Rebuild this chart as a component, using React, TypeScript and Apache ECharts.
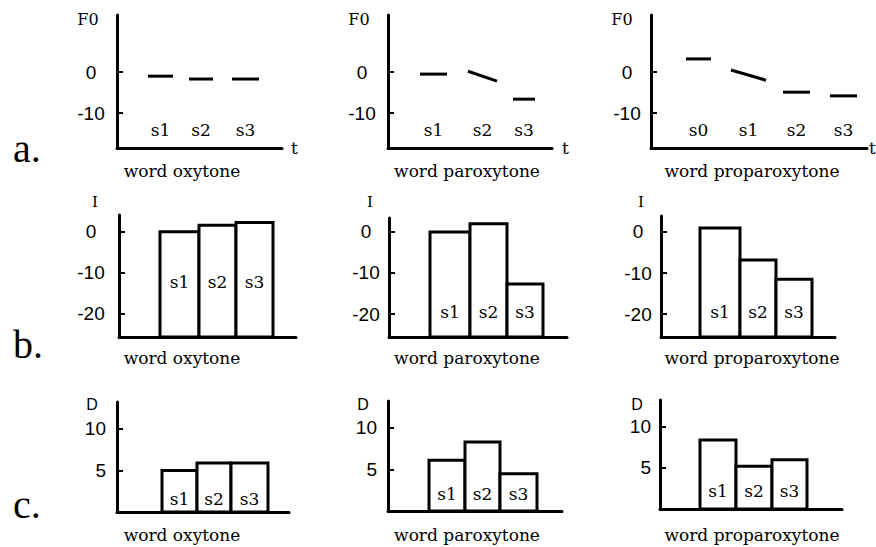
import React, { useEffect, useRef } from "react";
import * as echarts from "echarts";

// ---------- DATA ----------
// Row a: F0 contours (onset, offset in time units; F0 at start and end of each syllable)
const f0Syllables = [["s1", "s2", "s3"], ["s1", "s2", "s3"], ["s0", "s1", "s2", "s3"]];
const f0Onsets = [[3.1, 7.2, 11.5], [3.2, 8.0, 12.5], [3.5, 8.0, 13.2, 17.9]];
const f0Offsets = [[5.6, 9.6, 14.2], [5.9, 10.9, 14.7], [6.0, 11.5, 15.9, 20.6]];
const f0Start = [[-1, -1.7, -1.7], [-0.5, 0.2, -6.6], [3.2, 0.5, -4.9, -5.8]];
const f0End = [[-1, -1.7, -1.7], [-0.5, -2.2, -6.6], [3.2, -2.0, -4.9, -5.8]];

// Row b: intensity bars
const barSyllables = ["s1", "s2", "s3"];
const intOnsets = [[4.1, 8.0, 11.7], [4.1, 8.1, 11.8], [3.9, 7.9, 11.5]];
const intOffsets = [[8.0, 11.7, 15.4], [8.1, 11.8, 15.4], [7.9, 11.5, 15.1]];
const intValues = [[0, 1.6, 2.3], [0, 2.0, -12.7], [1.0, -6.8, -11.5]];

// Row c: duration bars
const durOnsets = [[4.5, 8.0, 11.4], [4.1, 7.7, 11.2], [4.0, 7.6, 11.2]];
const durOffsets = [[8.0, 11.4, 15.1], [7.7, 11.2, 14.9], [7.6, 11.2, 14.7]];
const durValues = [[5.0, 5.9, 5.9], [6.1, 8.3, 4.5], [8.4, 5.2, 6.0]];

const wordTypes = ["word oxytone", "word paroxytone", "word proparoxytone"];
const rowLetters = ["a.", "b.", "c."];
const axisNames = ["F0", "I", "D"];
const f0Ticks = [0, -10];
const intTicks = [0, -10, -20];
const durTicks = [10, 5];

// ---------- LAYOUT ----------
const gridRects = [
  [[117, 15, 165, 133], [388, 15, 164, 133], [651, 15, 216, 133]],
  [[119, 215, 177, 122], [389, 218, 178, 119], [661, 216, 174, 121]],
  [[117, 402, 172, 110], [388, 401, 174, 110], [660, 400, 182, 109]],
];
const yRanges = [
  [[-18.5, 13.9], [-18.5, 13.9], [-18.5, 13.9]],
  [[-25.6, 4.1], [-25.6, 3.4], [-25.6, 3.9]],
  [[0, 13.25], [0, 13.25], [0, 13.25]],
];
const labelMargins = [[26, 26, 24], [28, 23, 23], [11, 11, 9]];
const tNameGaps = [9, 10, 2];
const sLabelY = [[-14.1, -14.1, -14.1], [-12.2, -19.5, -19.5], [1.6, 2.0, 2.2]];
const subtitleY = [171, 358, 535];
const letterY = [148, 344, 504];
const axisNamePos = [
  [[88, 19], [359, 19], [622, 19]],
  [[95, 202], [370, 202], [641, 202]],
  [[92, 404], [363, 404], [637, 404]],
];
const subtitleX = [182, 467, 752];

const SERIF = "'DejaVu Serif', serif";
const SANS = "'Liberation Sans', Arial, sans-serif";

function buildOption() {
  const grid: any[] = [];
  const xAxis: any[] = [];
  const yAxis: any[] = [];
  const series: any[] = [];
  const graphic: any[] = [];
  for (let r = 0; r < 3; r++) {
    for (let c = 0; c < 3; c++) {
      const idx = r * 3 + c;
      const [gl, gt, gw, gh] = gridRects[r][c];
      grid.push({ left: gl, top: gt, width: gw, height: gh, containLabel: false, outerBoundsMode: "none" });
      xAxis.push({
        type: "value",
        gridIndex: idx,
        min: 0,
        max: gw / 10,
        axisLine: { show: true, onZero: false, lineStyle: { color: "#000", width: 3 } },
        axisTick: { show: false },
        axisLabel: { show: false },
        splitLine: { show: false },
        name: r === 0 ? "t" : "",
        nameLocation: "end",
        nameGap: tNameGaps[c],
        nameTextStyle: { fontFamily: SERIF, fontSize: 17, color: "#000", align: "left", verticalAlign: "middle" },
      });
      const ticks = r === 0 ? f0Ticks : r === 1 ? intTicks : durTicks;
      yAxis.push({
        type: "value",
        gridIndex: idx,
        min: yRanges[r][c][0],
        max: yRanges[r][c][1],
        axisLine: { show: true, onZero: false, lineStyle: { color: "#000", width: 3 } },
        axisTick: { show: true, inside: true, length: 6, customValues: ticks, lineStyle: { color: "#000", width: 2 } },
        axisLabel: {
          show: true,
          customValues: ticks,
          margin: labelMargins[r][c],
          align: r === 2 ? "right" : "center",
          fontFamily: SANS,
          fontSize: 19,
          color: "#000",
        },
        splitLine: { show: false },
      });
      const labelY = sLabelY[r][c];
      const yMin = yRanges[r][c][0];
      if (r === 0) {
        const names = f0Syllables[c];
        const data = f0Onsets[c].map((o, i) => [o, f0Offsets[c][i], f0Start[c][i], f0End[c][i]]);
        series.push({
          type: "custom",
          xAxisIndex: idx,
          yAxisIndex: idx,
          encode: { x: [0, 1], y: [2, 3] },
          data,
          renderItem: (params: any, api: any) => {
            const i = params.dataIndex;
            const x0 = api.value(0), x1 = api.value(1);
            const p0 = api.coord([x0, api.value(2)]);
            const p1 = api.coord([x1, api.value(3)]);
            const lp = api.coord([(x0 + x1) / 2, labelY]);
            return {
              type: "group",
              children: [
                { type: "line", shape: { x1: p0[0], y1: p0[1], x2: p1[0], y2: p1[1] }, style: { stroke: "#000", lineWidth: 3 } },
                {
                  type: "text",
                  x: lp[0],
                  y: lp[1],
                  style: { text: names[i], align: "center", verticalAlign: "middle", fontSize: 17, fontFamily: SERIF, fill: "#000" },
                },
              ],
            };
          },
        });
      } else {
        const on = r === 1 ? intOnsets[c] : durOnsets[c];
        const off = r === 1 ? intOffsets[c] : durOffsets[c];
        const vals = r === 1 ? intValues[c] : durValues[c];
        const data = on.map((o, i) => [o, off[i], vals[i]]);
        series.push({
          type: "custom",
          xAxisIndex: idx,
          yAxisIndex: idx,
          encode: { x: [0, 1], y: 2 },
          data,
          renderItem: (params: any, api: any) => {
            const i = params.dataIndex;
            const x0 = api.value(0), x1 = api.value(1);
            const p0 = api.coord([x0, api.value(2)]);
            const p1 = api.coord([x1, yMin]);
            const lp = api.coord([(x0 + x1) / 2, labelY]);
            return {
              type: "group",
              children: [
                {
                  type: "rect",
                  shape: { x: p0[0], y: p0[1], width: p1[0] - p0[0], height: p1[1] - p0[1] },
                  style: { fill: "#fff", stroke: "#000", lineWidth: 3 },
                },
                {
                  type: "text",
                  x: lp[0],
                  y: lp[1],
                  style: { text: barSyllables[i], align: "center", verticalAlign: "middle", fontSize: 17, fontFamily: SERIF, fill: "#000" },
                },
              ],
            };
          },
        });
      }
      // subtitle
      graphic.push({
        type: "text",
        x: subtitleX[c],
        y: subtitleY[r],
        style: { text: wordTypes[c], align: "center", verticalAlign: "middle", fontSize: 17, fontFamily: SERIF, fill: "#000" },
      });
      // axis name
      graphic.push({
        type: "text",
        x: axisNamePos[r][c][0],
        y: axisNamePos[r][c][1],
        style: {
          text: axisNames[r],
          align: "center",
          verticalAlign: "middle",
          fontSize: r === 1 ? 15 : 16,
          fontFamily: r === 2 ? SANS : SERIF,
          fill: "#000",
        },
      });
    }
    graphic.push({
      type: "text",
      x: 13,
      y: letterY[r],
      style: { text: rowLetters[r], align: "left", verticalAlign: "middle", fontSize: 40, fontFamily: "'Liberation Serif', serif", fill: "#000" },
    });
  }
  return {
    animation: false,
    backgroundColor: "#fff",
    grid,
    xAxis,
    yAxis,
    series,
    graphic,
  };
}

export default function App() {
  const ref = useRef<HTMLDivElement>(null);
  useEffect(() => {
    if (!ref.current) return;
    const chart = echarts.init(ref.current, undefined, { renderer: "svg" });
    chart.setOption(buildOption() as any);
    return () => chart.dispose();
  }, []);
  return (
    <div
      ref={ref}
      style={{ position: "absolute", left: 0, top: 0, width: 876, height: 547, background: "#fff" }}
    />
  );
}
